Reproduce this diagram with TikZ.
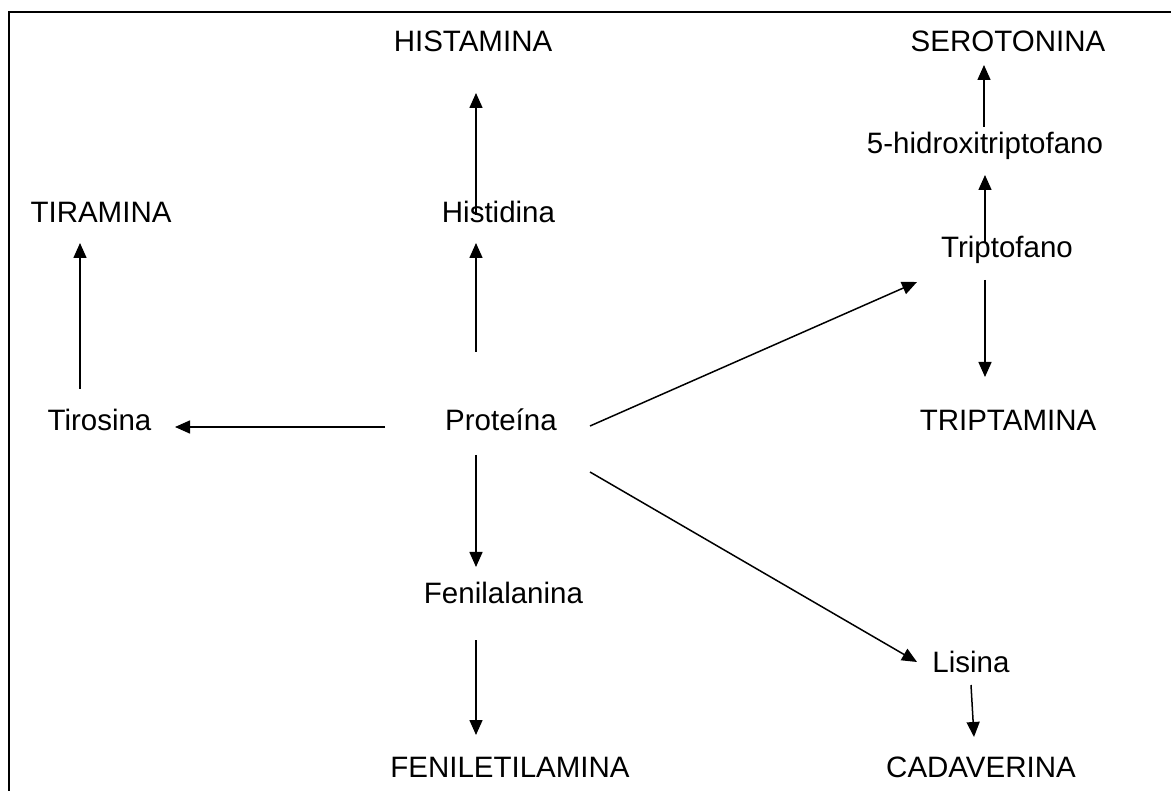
\documentclass[tikz,border=0pt]{standalone}
\usepackage{fontspec}
\setmainfont{Liberation Sans}
\usetikzlibrary{arrows.meta}
\tikzset{
    metab/.style={inner sep=0pt, anchor=base, font=\fontsize{29.5}{35}\selectfont},
    conv/.style={-{Triangle[length=15pt,width=13pt]}, line width=1.5pt},
    marco/.style={line width=1.8pt},
}
\begin{document}
\begin{tikzpicture}[x=1pt,y=-1pt]
\useasboundingbox (0,0) rectangle (1171,791);
\draw[marco] (1171,12) -- (9,12) -- (9,791);

\node[metab] (histamina) at (473,52) {HISTAMINA};
\node[metab] (serotonina) at (1008,52) {SEROTONINA};
\node[metab] (hidroxi) at (985,154) {5-hidroxitriptofano};
\node[metab] (tiramina) at (101,223) {TIRAMINA};
\node[metab] (histidina) at (498.5,223) {Histidina};
\node[metab] (triptofano) at (1007,258) {Triptofano};
\node[metab] (tirosina) at (99.5,431) {Tirosina};
\node[metab] (proteina) at (501,431) {Proteína};
\node[metab] (triptamina) at (1008,431) {TRIPTAMINA};
\node[metab] (fenilalanina) at (503.5,603) {Fenilalanina};
\node[metab] (lisina) at (971,672) {Lisina};
\node[metab] (feniletil) at (510,777) {FENILETILAMINA};
\node[metab] (cadaverina) at (981,777) {CADAVERINA};

\draw[conv] ([xshift=-22.5pt,yshift=8pt]histidina.base) -- ([xshift=3pt,yshift=-41pt]histamina.base);
\draw[conv] ([xshift=-25pt,yshift=79pt]proteina.base) -- ([xshift=-22.5pt,yshift=-20pt]histidina.base);
\draw[conv] ([xshift=-116pt,yshift=4pt]proteina.base) -- ([xshift=75.5pt,yshift=4pt]tirosina.base);
\draw[conv] ([xshift=-19.5pt,yshift=42pt]tirosina.base) -- ([xshift=-21pt,yshift=-20pt]tiramina.base);
\draw[conv] ([xshift=89pt,yshift=5pt]proteina.base) -- ([xshift=-90pt,yshift=-24pt]triptofano.base);
\draw[conv] ([xshift=89pt,yshift=-41pt]proteina.base) -- ([xshift=-54pt,yshift=10pt]lisina.base);
\draw[conv] ([xshift=-25pt,yshift=-24pt]proteina.base) -- ([xshift=-27.5pt,yshift=36pt]fenilalanina.base);
\draw[conv] ([xshift=-27.5pt,yshift=-37pt]fenilalanina.base) -- ([xshift=-34pt,yshift=42pt]feniletil.base);
\draw[conv] ([xshift=-22pt,yshift=15pt]triptofano.base) -- ([xshift=0pt,yshift=-21pt]hidroxi.base);
\draw[conv] ([xshift=-1pt,yshift=27pt]hidroxi.base) -- ([xshift=-24pt,yshift=-13pt]serotonina.base);
\draw[conv] ([xshift=-22pt,yshift=-22pt]triptofano.base) -- ([xshift=-23pt,yshift=54pt]triptamina.base);
\draw[conv] ([xshift=0pt,yshift=-13pt]lisina.base) -- ([xshift=-7pt,yshift=40pt]cadaverina.base);
\end{tikzpicture}
\end{document}
